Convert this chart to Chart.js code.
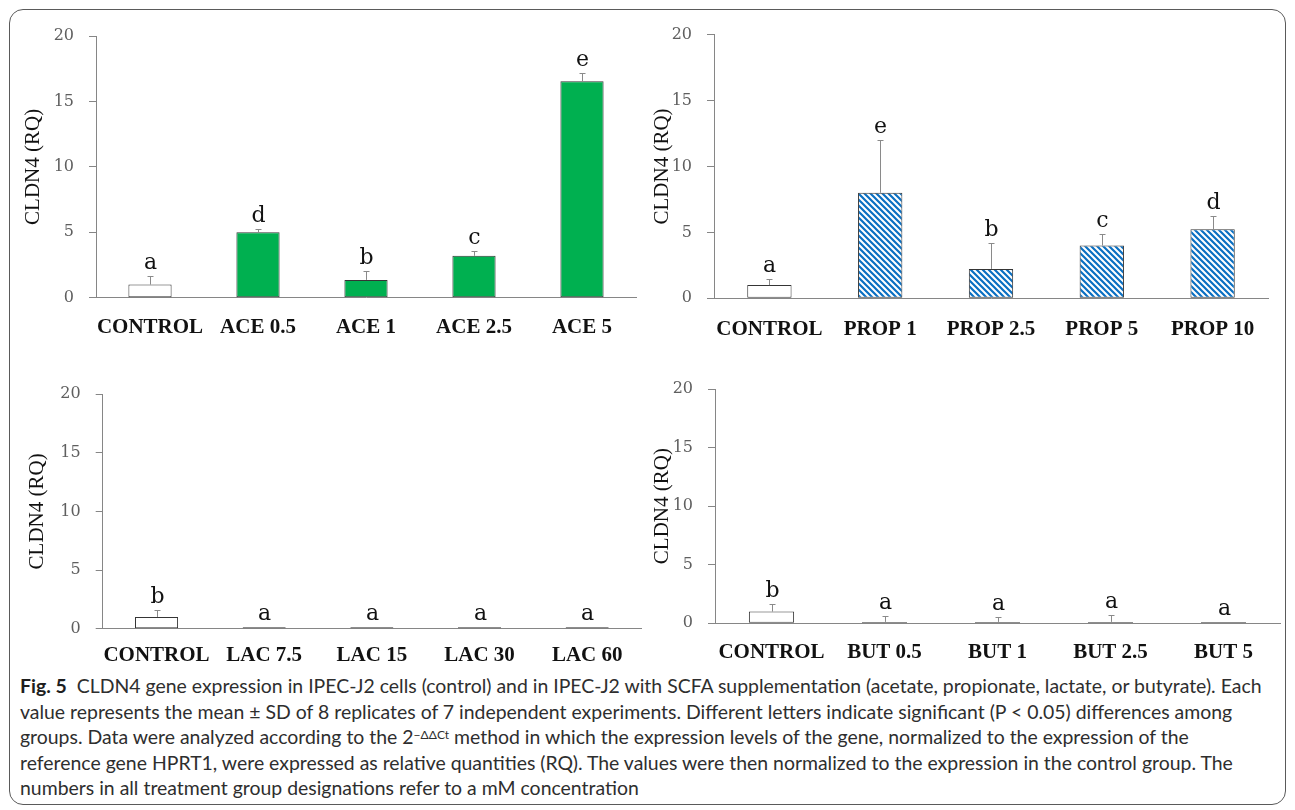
<!DOCTYPE html>
<html>
<head>
<meta charset="utf-8">
<script src="https://cdn.jsdelivr.net/npm/chart.js@4/dist/chart.umd.min.js"></script>
<style>
  html, body { margin: 0; padding: 0; background: #ffffff; }
  #fig { position: relative; width: 1295px; height: 810px; overflow: hidden; background: #fff; }
  #frame { position: absolute; left: 9px; top: 9px; width: 1277px; height: 796px;
           border: 1px solid #5a5a5a; border-radius: 14px; box-sizing: border-box; }
  canvas { position: absolute; }
  #caption { position: absolute; left: 20px; top: 673px; font-family: Lato, "Noto Sans", sans-serif;
             font-size: 16px; line-height: 25.5px; color: #2e2e2e; white-space: nowrap; }
  #caption b { color: #1e1e1e; }
  #caption sup { font-size: 0.62em; line-height: 0; position: relative; top: -0.45em; vertical-align: baseline; }
</style>
</head>
<body>
<div id="fig">
  <div id="frame"></div>
  <canvas id="chartAce"></canvas>
  <canvas id="chartProp"></canvas>
  <canvas id="chartLac"></canvas>
  <canvas id="chartBut"></canvas>
  <div id="caption">
    <div id="capLine1"><b>Fig. 5</b>&nbsp; CLDN4 gene expression in IPEC-J2 cells (control) and in IPEC-J2 with SCFA supplementation (acetate, propionate, lactate, or butyrate). Each</div>
    <div>value represents the mean ± SD of 8 replicates of 7 independent experiments. Different letters indicate significant (P &lt; 0.05) differences among</div>
    <div>groups. Data were analyzed according to the 2<sup>−ΔΔCt</sup> method in which the expression levels of the gene, normalized to the expression of the</div>
    <div>reference gene HPRT1, were expressed as relative quantities (RQ). The values were then normalized to the expression in the control group. The</div>
    <div>numbers in all treatment group designations refer to a mM concentration</div>
  </div>
</div>
<script>
// ---- data: CLDN4 relative quantity (mean, SD) and significance letters ----
const yTicks = [0, 5, 10, 15, 20];
const yTitle = 'CLDN4 (RQ)';

const aceCategories = ['CONTROL', 'ACE 0.5', 'ACE 1', 'ACE 2.5', 'ACE 5'];
const aceMeans      = [1.0, 5.0, 1.36, 3.2, 16.55];
const aceSD         = [0.63, 0.25, 0.69, 0.35, 0.6];
const aceLetters    = ['a', 'd', 'b', 'c', 'e'];

const propCategories = ['CONTROL', 'PROP 1', 'PROP 2.5', 'PROP 5', 'PROP 10'];
const propMeans      = [1.0, 8.0, 2.23, 4.0, 5.23];
const propSD         = [0.5, 4.0, 2.0, 0.85, 1.0];
const propLetters    = ['a', 'e', 'b', 'c', 'd'];

const lacCategories = ['CONTROL', 'LAC 7.5', 'LAC 15', 'LAC 30', 'LAC 60'];
const lacMeans      = [1.0, 0.12, 0.12, 0.12, 0.12];
const lacSD         = [0.62, 0, 0, 0, 0];
const lacLetters    = ['b', 'a', 'a', 'a', 'a'];

const butCategories = ['CONTROL', 'BUT 0.5', 'BUT 1', 'BUT 2.5', 'BUT 5'];
const butMeans      = [1.0, 0.12, 0.12, 0.12, 0.12];
const butSD         = [0.62, 0.53, 0.39, 0.59, 0];
const butLetters    = ['b', 'a', 'a', 'a', 'a'];

// ---- styling ----
const AXIS_GREY = '#868686';
const BAR_EDGE = '#353535';
const GREEN = '#00b050';

// diagonal blue hatch used for the propionate bars
function makeHatch(targetCtx) {
  const s = 6;
  const c = document.createElement('canvas');
  c.width = s; c.height = s;
  const g = c.getContext('2d');
  g.fillStyle = '#ffffff';
  g.fillRect(0, 0, s, s);
  g.strokeStyle = '#0a6fc2';
  g.lineWidth = 2.2;
  g.beginPath();
  g.moveTo(-2, -2); g.lineTo(s + 2, s + 2);
  g.moveTo(-2, s - 2); g.lineTo(2, s + 2);
  g.moveTo(s - 2, -2); g.lineTo(s + 2, 2);
  g.stroke();
  return targetCtx.createPattern(c, 'repeat');
}

// upward SD whiskers and the letter above each bar
const errorBarsPlugin = {
  id: 'errorBars',
  afterDatasetsDraw(chart, args, opts) {
    const { ctx } = chart;
    const x = chart.scales.x, y = chart.scales.y;
    const means = chart.data.datasets[0].data;
    ctx.save();
    means.forEach((m, i) => {
      const sd = opts.sd[i];
      const px = Math.round(x.getPixelForValue(i)) + 0.5;
      const yTop = y.getPixelForValue(m);
      const yErr = y.getPixelForValue(m + sd);
      if (sd > 0) {
        const ye = Math.round(yErr) + 0.5;
        ctx.strokeStyle = '#8a8a8a';
        ctx.lineWidth = 1;
        ctx.beginPath();
        ctx.moveTo(px, yTop);
        ctx.lineTo(px, ye);
        ctx.moveTo(px - 3, ye);
        ctx.lineTo(px + 3, ye);
        ctx.stroke();
      }
      ctx.fillStyle = '#111';
      ctx.font = '22px "DejaVu Serif"';
      ctx.textAlign = 'center';
      ctx.textBaseline = 'alphabetic';
      ctx.fillText(opts.letters[i], px, yErr - 7);
    });
    ctx.restore();
  }
};

// rect: canvas box on the page; plot: plot-area box on the page
function makePanel(id, rect, plot, cats, means, sds, letters, fillKind, labelGap, titleCenter) {
  const canvas = document.getElementById(id);
  canvas.width = rect.w; canvas.height = rect.h;
  canvas.style.left = rect.x + 'px'; canvas.style.top = rect.y + 'px';
  canvas.style.width = rect.w + 'px'; canvas.style.height = rect.h + 'px';
  const ctx = canvas.getContext('2d');
  const fill = fillKind === 'hatch' ? makeHatch(ctx) : GREEN;

  const yW = plot.l - rect.x;
  const xH = rect.y + rect.h - plot.b;
  const padTop = plot.t - rect.y;
  const padRight = rect.x + rect.w - plot.r;
  const titleSize = 21, titleLH = titleSize * 1.2;
  const titlePad = (titleCenter - rect.x) - titleLH / 2;

  return new Chart(canvas, {
    type: 'bar',
    data: {
      labels: cats,
      datasets: [{
        data: means,
        backgroundColor: cats.map((c, i) => i === 0 ? '#ffffff' : fill),
        borderColor: BAR_EDGE,
        borderWidth: 1,
        borderSkipped: false,
        barPercentage: 0.4,
        categoryPercentage: 1.0
      }]
    },
    options: {
      responsive: false,
      animation: false,
      devicePixelRatio: 1,
      layout: { autoPadding: false, padding: { top: padTop, right: padRight, left: 0, bottom: 0 } },
      plugins: {
        legend: { display: false },
        tooltip: { enabled: false },
        errorBars: { sd: sds, letters: letters }
      },
      scales: {
        x: {
          grid: { display: false, drawTicks: false },
          border: { color: AXIS_GREY, width: 1 },
          ticks: {
            padding: labelGap, color: '#111',
            font: { family: '"Liberation Serif"', size: 21, weight: 'bold' },
            maxRotation: 0, autoSkip: false
          },
          afterFit(s) { s.height = xH; }
        },
        y: {
          min: 0, max: 20,
          afterBuildTicks(s) { s.ticks = yTicks.map(v => ({ value: v })); },
          grid: { drawOnChartArea: false, drawTicks: true, tickLength: 7, color: AXIS_GREY },
          border: { color: AXIS_GREY, width: 1 },
          ticks: { padding: 15, color: '#5f5f5f', font: { family: '"DejaVu Serif"', size: 16 } },
          title: {
            display: true, text: yTitle, color: '#111',
            font: { family: '"Liberation Serif"', size: titleSize },
            padding: { top: titlePad, bottom: 0 }
          },
          afterFit(s) { s.width = yW; }
        }
      }
    },
    plugins: [errorBarsPlugin]
  });
}

makePanel('chartAce',  { x: 10,  y: 10,  w: 635, h: 350 }, { l: 96,  r: 636,  t: 36,  b: 297.7 },
  aceCategories, aceMeans, aceSD, aceLetters, 'green', 17, 33.6);
makePanel('chartProp', { x: 645, y: 10,  w: 640, h: 350 }, { l: 714, r: 1268, t: 32.3, b: 298.3 },
  propCategories, propMeans, propSD, propLetters, 'hatch', 19, 662);
makePanel('chartLac',  { x: 10,  y: 360, w: 635, h: 310 }, { l: 102.7, r: 641, t: 394, b: 628.7 },
  lacCategories, lacMeans, lacSD, lacLetters, 'green', 14, 37);
makePanel('chartBut',  { x: 645, y: 360, w: 640, h: 310 }, { l: 715, r: 1280, t: 389, b: 623.3 },
  butCategories, butMeans, butSD, butLetters, 'green', 17, 662);

// fit the caption to its column width
(function fitCaption() {
  const cap = document.getElementById('caption');
  const line1 = document.getElementById('capLine1');
  const range = document.createRange();
  range.selectNodeContents(line1);
  const w = range.getBoundingClientRect().width;
  const target = 1242;
  cap.style.fontSize = (16 * target / w).toFixed(2) + 'px';
})();
</script>
</body>
</html>
